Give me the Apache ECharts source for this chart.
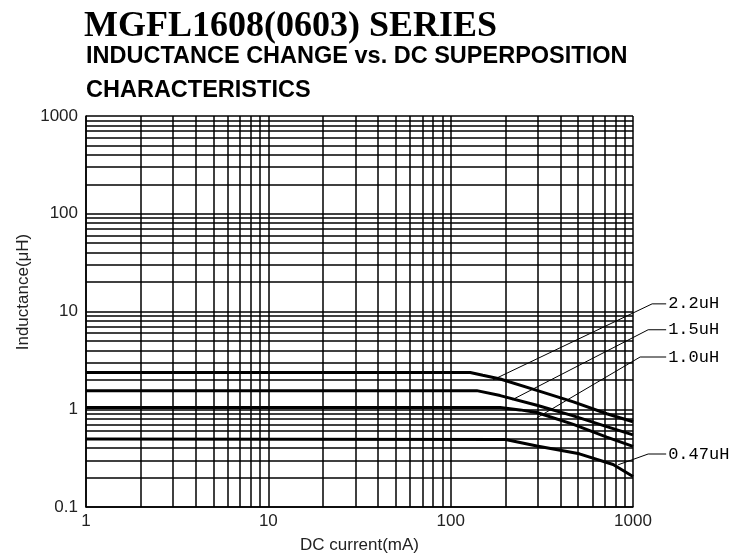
<!DOCTYPE html>
<html>
<head>
<meta charset="utf-8">
<script src="https://cdn.jsdelivr.net/npm/echarts@6/dist/echarts.min.js"></script>
<style>
  html, body { margin: 0; padding: 0; background: #fff; }
  #chart { width: 743px; height: 559px; }
</style>
</head>
<body>
<div id="chart"></div>
<script>
// curves (DC current mA -> inductance uH)
var current22 = [1, 128, 150, 187, 297, 471, 718, 1000]
var ind22 = [2.38, 2.38, 2.23, 2.04, 1.56, 1.19, 0.9, 0.745]
var current15 = [1, 139, 187, 297, 471, 718, 1000]
var ind15 = [1.55, 1.55, 1.38, 1.1, 0.856, 0.664, 0.547]
var current10 = [1, 187, 240, 297, 471, 718, 1000]
var ind10 = [1.04, 1.04, 0.985, 0.926, 0.7, 0.519, 0.417]
var current047 = [1, 200, 297, 508, 778, 1000]
var ind047 = [0.495, 0.49, 0.42, 0.35, 0.272, 0.205]

// leader lines from each curve out to its label
var leader22X = [171, 1273, 1520]
var leader22Y = [2.2, 12.8, 12.8]
var leader15X = [217, 1211, 1520]
var leader15Y = [1.38, 7.02, 7.02]
var leader10X = [297, 1094, 1520]
var leader10Y = [0.91, 3.73, 3.73]
var leader047X = [829, 1211, 1520]
var leader047Y = [0.306, 0.393, 0.393]

var seriesNames = ['2.2uH', '1.5uH', '1.0uH', '0.47uH']

// log grid: 1..9 in every decade
var xDecades = [1, 10, 100]
var yDecades = [0.1, 1, 10, 100]
var mantissas = [1, 2, 3, 4, 5, 6, 7, 8, 9]

function gridValues(decades, last) {
  var out = []
  decades.forEach(function (d) {
    mantissas.forEach(function (m) { out.push(+(d * m).toPrecision(3)) })
  })
  out.push(last)
  return out
}
var xGrid = gridValues(xDecades, 1000)
var yGrid = gridValues(yDecades, 1000)

function pairs(xs, ys) {
  return xs.map(function (x, i) { return [x, ys[i]] })
}

var plotLeft = 86, plotRight = 633, chartWidth = 743
// hidden axis on a wider grid so the leaders can run past 1000 mA
var outerMax = Math.pow(10, 3 * (chartWidth - plotLeft) / (plotRight - plotLeft))

var chart = echarts.init(document.getElementById('chart'))

var sans = 'Liberation Sans'

function curve(name, xs, ys) {
  return {
    name: name,
    type: 'line',
    data: pairs(xs, ys),
    showSymbol: false,
    lineStyle: { color: '#000', width: 3 },
    z: 5,
    silent: true
  }
}

function leader(name, xs, ys) {
  return {
    name: name + ' leader',
    type: 'line',
    xAxisIndex: 1,
    yAxisIndex: 1,
    data: pairs(xs, ys),
    showSymbol: false,
    clip: false,
    lineStyle: { color: '#000', width: 1 },
    endLabel: {
      show: true,
      formatter: name,
      distance: 2,
      fontFamily: 'Liberation Mono',
      fontSize: 17,
      color: '#000'
    },
    z: 6,
    silent: true
  }
}

function plain(v) { return String(v) }

chart.setOption({
  animation: false,
  backgroundColor: '#fff',
  title: [
    {
      text: 'MGFL1608(0603) SERIES',
      left: 84, top: 9, padding: 0,
      textStyle: { fontFamily: 'Liberation Serif', fontWeight: 'bold', fontSize: 36, color: '#000' }
    },
    {
      text: 'INDUCTANCE CHANGE vs. DC SUPERPOSITION',
      left: 86, top: 45, padding: 0,
      textStyle: { fontFamily: sans, fontWeight: 'bold', fontSize: 23.5, color: '#000' }
    },
    {
      text: 'CHARACTERISTICS',
      left: 86, top: 79, padding: 0,
      textStyle: { fontFamily: sans, fontWeight: 'bold', fontSize: 23.5, color: '#000' }
    }
  ],
  graphic: [
    {
      type: 'text',
      x: 23, y: 292,
      rotation: Math.PI / 2,
      style: {
        text: 'Inductance(μH)',
        fontFamily: sans,
        fontSize: 17,
        fill: '#222',
        align: 'center',
        verticalAlign: 'middle'
      }
    }
  ],
  grid: [
    { left: plotLeft, top: 116, right: chartWidth - plotRight, bottom: 46 },
    { left: plotLeft, top: 116, right: 0, bottom: 46 }
  ],
  xAxis: [
    {
      type: 'log',
      logBase: 10,
      min: 1,
      max: 1000,
      name: 'DC current(mA)',
      nameLocation: 'middle',
      nameGap: 30,
      nameTextStyle: { fontFamily: sans, fontSize: 17, color: '#222' },
      axisLine: { lineStyle: { color: '#000', width: 1.5 } },
      axisTick: { show: false },
      axisLabel: { fontFamily: sans, fontSize: 17, color: '#222', margin: 6, formatter: plain },
      splitLine: { show: false }
    },
    {
      gridIndex: 1,
      type: 'log',
      logBase: 10,
      min: 1,
      max: outerMax,
      show: false
    }
  ],
  yAxis: [
    {
      type: 'log',
      logBase: 10,
      min: 0.1,
      max: 1000,
      axisLine: { show: true, lineStyle: { color: '#000', width: 1.5 } },
      axisTick: { show: false },
      axisLabel: { fontFamily: sans, fontSize: 17, color: '#222', margin: 8, formatter: plain },
      splitLine: { show: false }
    },
    {
      gridIndex: 1,
      type: 'log',
      logBase: 10,
      min: 0.1,
      max: 1000,
      show: false
    }
  ],
  series: [
    {
      name: 'grid',
      type: 'line',
      data: [[1, 0.1]],
      showSymbol: false,
      silent: true,
      z: 1,
      markLine: {
        silent: true,
        symbol: ['none', 'none'],
        label: { show: false },
        lineStyle: { color: '#000', width: 1.5, type: 'solid' },
        data: xGrid.map(function (v) { return { xAxis: v } })
          .concat(yGrid.map(function (v) { return { yAxis: v } }))
      }
    },
    curve(seriesNames[0], current22, ind22),
    curve(seriesNames[1], current15, ind15),
    curve(seriesNames[2], current10, ind10),
    curve(seriesNames[3], current047, ind047),
    leader(seriesNames[0], leader22X, leader22Y),
    leader(seriesNames[1], leader15X, leader15Y),
    leader(seriesNames[2], leader10X, leader10Y),
    leader(seriesNames[3], leader047X, leader047Y)
  ]
})
</script>
</body>
</html>
